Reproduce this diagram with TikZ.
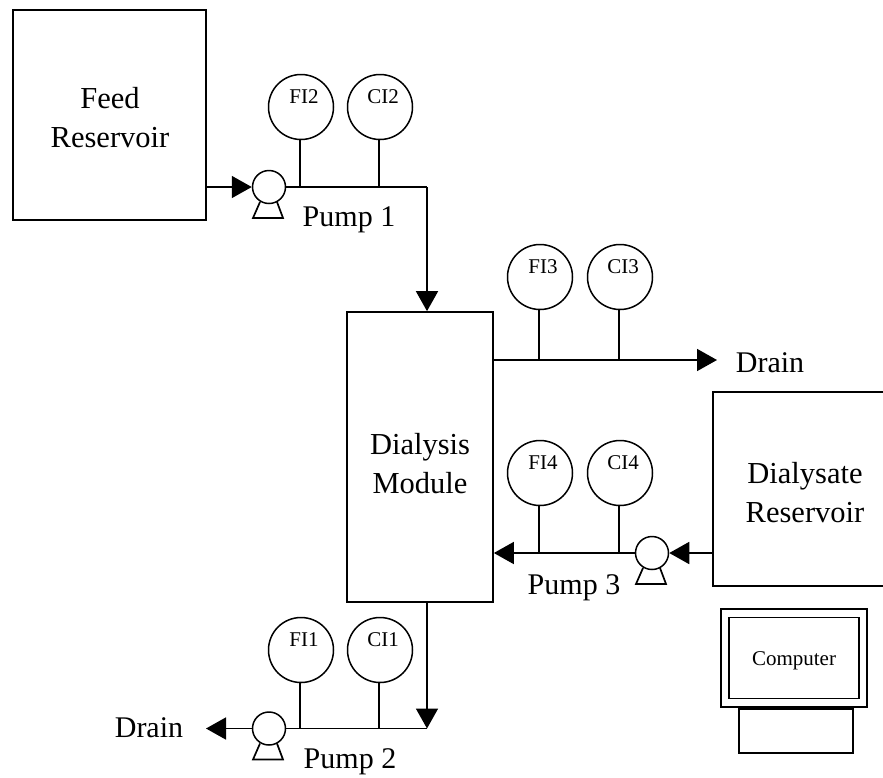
\documentclass[tikz,border=0pt]{standalone}
\usepackage{fontspec}
\setmainfont{Liberation Serif}
\usetikzlibrary{arrows.meta}
\newcommand{\gaugelabel}[1]{\hspace*{6pt}\raisebox{4pt}[0pt][0pt]{#1}}
\tikzset{
	pipe/.style={line width=1.7pt},
	stem/.style={line width=2pt},
	flow/.style={pipe, -{Triangle[length=20pt,width=22pt]}},
	vessel/.style={draw, line width=1.7pt, inner sep=0pt},
	gauge/.style={circle, draw, line width=1.5pt, minimum size=65pt, inner sep=0pt, font=\fontsize{21}{21}\selectfont},
	pump/.style={circle, draw, line width=1.5pt, minimum size=33pt, inner sep=0pt},
	tag/.style={anchor=base, inner sep=0pt, font=\fontsize{30}{30}\selectfont},
	vesseltag/.style={align=center, inner sep=0pt, font=\fontsize{30.5}{39}\selectfont}
}
\begin{document}
\begin{tikzpicture}[x=1pt,y=-1pt]
	\clip (0,0) rectangle (883,777);

	\node[vessel, minimum width=193pt, minimum height=210pt] (feed) at (109.5,115) {};
	\node[vessel, minimum width=146pt, minimum height=290pt] (dialysis) at (420,457) {};
	\node[vessel, minimum width=184pt, minimum height=194pt] (dialysate) at (805,489) {};
	\node[vesseltag] (feedTag) at (110,118) {Feed\\Reservoir};
	\node[vesseltag] (dialysisTag) at (420,464) {Dialysis\\Module};
	\node[vesseltag] (dialysateTag) at (805,493) {Dialysate\\Reservoir};

	\node[pump] (pumpOne) at (269,187) {};
	\node[pump] (pumpTwo) at (269,728.5) {};
	\node[pump] (pumpThree) at (652,553) {};
	\foreach \p in {pumpOne,pumpTwo,pumpThree}
	\draw[pipe] ([shift={(-9pt,-15pt)}]\p.center) -- ++(-7,16) -- ++(30,0) -- ++(-6,-16);

	\node[gauge] (fiTwo) at (301,107) {\gaugelabel{FI2}};
	\node[gauge] (ciTwo) at (380,107) {\gaugelabel{CI2}};
	\node[gauge] (fiThree) at (540,277) {\gaugelabel{FI3}};
	\node[gauge] (ciThree) at (620,277) {\gaugelabel{CI3}};
	\node[gauge] (fiFour) at (540,473) {\gaugelabel{FI4}};
	\node[gauge] (ciFour) at (620,473) {\gaugelabel{CI4}};
	\node[gauge] (fiOne) at (301,650) {\gaugelabel{FI1}};
	\node[gauge] (ciOne) at (380,650) {\gaugelabel{CI1}};

	\coordinate (bendFeed) at (427,187);
	\coordinate (bendDrain) at (427,728.5);
	\coordinate (drainLeft) at (206,728.5);
	\coordinate (drainRight) at (717,360);
	\coordinate (moduleOut) at (493,360);

	% pipes
	\draw[flow] (feed.east |- pumpOne) -- (pumpOne.west);
	\draw[pipe] (pumpOne.east) -- (bendFeed);
	\draw[flow] (bendFeed) -- (bendFeed |- dialysis.north);
	\draw[flow] (bendDrain |- dialysis.south) -- (bendDrain);
	\draw[pipe] (bendDrain) -- (pumpTwo.east);
	\draw[flow] (pumpTwo.west) -- (drainLeft);
	\draw[flow] (moduleOut) -- (drainRight);
	\draw[flow] (dialysate.west |- pumpThree) -- (pumpThree.east);
	\draw[flow] (pumpThree.west) -- (dialysis.east |- pumpThree);

	% stems
	\foreach \g/\t in {fiTwo/pumpOne,ciTwo/pumpOne,fiOne/pumpTwo,ciOne/pumpTwo,fiThree/moduleOut,ciThree/moduleOut,fiFour/pumpThree,ciFour/pumpThree}
	\draw[stem] ([xshift=-1.5pt]\g.south) -- ([xshift=-1.5pt]\g.south |- \t);

	\node[tag] (pumpOneTag) at (349,226) {Pump 1};
	\node[tag] (pumpTwoTag) at (350,768) {Pump 2};
	\node[tag] (pumpThreeTag) at (574,594) {Pump 3};
	\node[tag] (drainLeftTag) at (149,737) {Drain};
	\node[tag] (drainRightTag) at (770,372) {Drain};

	% computer
	\node[draw, line width=1.7pt, minimum width=146pt, minimum height=98pt] (screen) at (794,658) {};
	\node[draw, line width=1.7pt, minimum width=130pt, minimum height=81pt, font=\fontsize{21}{21}\selectfont] (display) at (794,658) {\raisebox{-7pt}[0pt][0pt]{Computer}};
	\node[draw, line width=1.7pt, anchor=north, minimum width=114pt, minimum height=44pt] (stand) at ([xshift=2pt]screen.south) {};
\end{tikzpicture}
\end{document}
